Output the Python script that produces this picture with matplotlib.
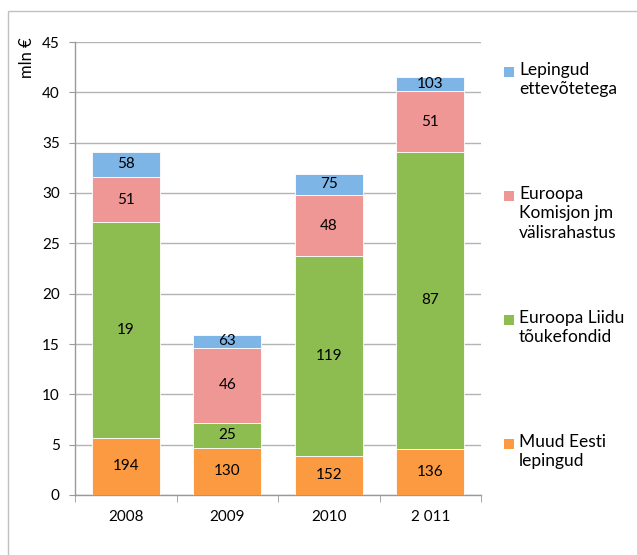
import matplotlib.pyplot as plt
import numpy as np
from matplotlib.patches import Rectangle

plt.rcParams['font.family'] = ['Lato', 'DejaVu Sans']

# Aastad ja rahastuse liigid (mln €), alt üles
years = ['2008', '2009', '2010', '2 011']
series = ['Muud Eesti\nlepingud', 'Euroopa Liidu\ntõukefondid',
          'Euroopa\nKomisjon jm\nvälisrahastus', 'Lepingud\nettevõtetega']
muud_eesti = [5.7, 4.7, 3.9, 4.6]
el_fondid = [21.4, 2.5, 19.8, 29.5]
komisjon = [4.5, 7.4, 6.1, 6.0]
ettevotted = [2.5, 1.3, 2.1, 1.4]

# Lepingute arv igas lõigus
n_muud = [194, 130, 152, 136]
n_fondid = [19, 25, 119, 87]
n_komisjon = [51, 46, 48, 51]
n_ettevotted = [58, 63, 75, 103]

colors = ['#FB9A40', '#8DBD50', '#EF9794', '#7DB5E6']
values = [muud_eesti, el_fondid, komisjon, ettevotted]
counts = [n_muud, n_fondid, n_komisjon, n_ettevotted]

W, H = 637, 555
fig = plt.figure(figsize=(W / 100, H / 100), dpi=100)
ax = fig.add_axes([75 / W, (H - 495) / H, 406 / W, 453 / H])

x = np.arange(len(years))
bottom = np.zeros(len(years))
for vals, cnt, col in zip(values, counts, colors):
    vals = np.array(vals)
    ax.bar(x, vals, width=0.67, bottom=bottom, color=col,
           edgecolor='white', linewidth=0.6, zorder=3)
    for xi, b, v, c in zip(x, bottom, vals, cnt):
        ax.text(xi, b + v / 2, str(c), ha='center', va='center',
                fontsize=11, color='black', zorder=4)
    bottom += vals

ax.set_xlim(-0.5, len(years) - 0.5)
ax.set_ylim(0, 45)
ax.set_yticks(np.arange(0, 46, 5))
ax.grid(axis='y', color='#b3b3b3', linewidth=1.0, zorder=0)
ax.set_xticks(x)
ax.set_xticklabels(years, fontsize=11)
ax.set_xticks(np.arange(-0.5, len(years), 1), minor=True)
ax.tick_params(axis='x', which='major', length=0, pad=11)
ax.tick_params(axis='x', which='minor', length=5, color='#999999')
ax.tick_params(axis='y', length=4, color='#999999', labelsize=11, pad=7)
for side in ['top', 'right']:
    ax.spines[side].set_visible(False)
for side in ['left', 'bottom']:
    ax.spines[side].set_color('#999999')
    ax.spines[side].set_linewidth(1.0)

ax.text(-0.118, 1.01, 'mln €', transform=ax.transAxes, rotation=90,
        ha='center', va='top', fontsize=12)

# Legend: ülevalt alla samas järjekorras nagu virnas
sq = 10
legend_y = [72, 196, 320, 444]
for name, col, yc in zip(series[::-1], colors[::-1], legend_y):
    fig.patches.append(Rectangle((504 / W, (H - yc - sq / 2) / H), sq / W, sq / H,
                                 transform=fig.transFigure, facecolor=col,
                                 edgecolor='none'))
    fig.text(519 / W, (H - yc + 10) / H, name, ha='left', va='top',
             fontsize=12.5, linespacing=1.25)

# Diagrammiala raam
fig.patches.append(Rectangle((8 / W, -0.1), 1.2, (H - 11) / H + 0.1,
                             transform=fig.transFigure, facecolor='none',
                             edgecolor='#c0c0c0', linewidth=1.0))

fig.savefig('out.png', dpi=100)
